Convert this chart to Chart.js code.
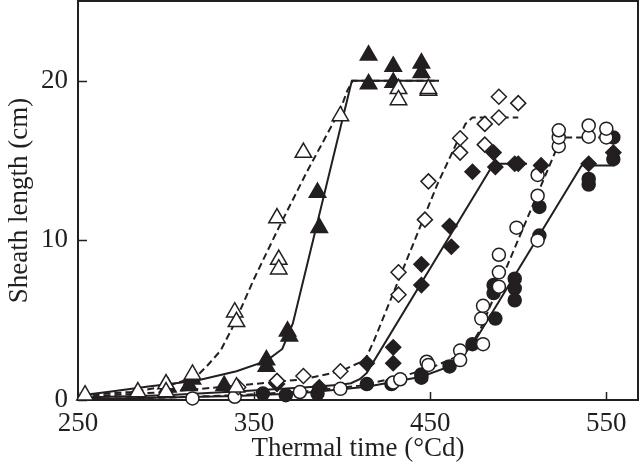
<!DOCTYPE html>
<html>
<head>
<meta charset="utf-8">
<script src="https://cdn.jsdelivr.net/npm/chart.js@4"></script>
<style>
  body { margin: 0; background: #fff; }
  canvas { display: block; }
</style>
</head>
<body>
<canvas id="chart" width="640" height="469"></canvas>
<script>
const ink = '#231f20';

const xTicks = [250, 350, 450, 550];
const yTicks = [0, 10, 20];

// measured points
const openTriX = [254, 284, 300, 300, 315, 340, 339, 340, 363, 364, 364, 378, 399, 432, 432, 449, 449];
const openTriY = [0.3, 0.5, 1.0, 0.5, 1.6, 0.8, 5.5, 4.9, 11.4, 8.8, 8.2, 15.5, 17.8, 19.5, 18.8, 19.4, 19.5];
const fillTriX = [301, 313, 315, 333, 357, 357, 369, 370, 386, 387, 415, 415, 429, 429, 445, 445];
const fillTriY = [0.8, 0.9, 1.3, 0.9, 2.5, 2.1, 4.3, 4.0, 13.0, 10.8, 21.6, 19.8, 20.9, 19.9, 21.1, 20.5];
const openDiaX = [341, 363, 378, 399, 432, 432, 447, 449, 467, 467, 481, 481, 489, 489, 500];
const openDiaY = [0.8, 1.2, 1.5, 1.8, 8.0, 6.6, 11.3, 13.7, 15.5, 16.4, 16.0, 17.3, 17.7, 19.0, 18.6];
const fillDiaX = [363, 387, 414, 429, 429, 445, 445, 461, 462, 474, 486, 487, 498, 500, 513, 540, 554];
const fillDiaY = [1.0, 0.8, 2.3, 3.3, 2.3, 8.5, 7.2, 10.9, 9.6, 14.3, 15.5, 14.6, 14.8, 14.8, 14.7, 14.8, 15.5];
const openCirX = [315, 339, 376, 399, 429, 433, 448, 449, 467, 467, 480, 479, 480, 489, 489, 489, 499, 511, 511, 511, 523, 523, 523, 540, 540, 550, 550];
const openCirY = [0.1, 0.2, 0.5, 0.7, 1.1, 1.3, 2.4, 2.2, 3.1, 2.5, 3.5, 5.1, 5.9, 7.1, 8.0, 9.1, 10.8, 10.0, 12.8, 14.1, 15.9, 16.45, 16.9, 16.5, 17.2, 16.45, 17.0];
const fillCirX = [355, 368, 386, 414, 428, 445, 445, 461, 474, 487, 486, 486, 498, 498, 498, 512, 512, 540, 540, 554, 554];
const fillCirY = [0.4, 0.3, 0.4, 1.0, 1.0, 1.6, 1.4, 2.1, 3.5, 5.1, 6.7, 7.2, 6.25, 7.0, 7.6, 10.3, 12.1, 13.5, 13.85, 15.1, 16.45];

// fitted curves
const fitOpenTriX = [252, 280, 300, 317, 323, 331, 338, 350, 364, 380, 399, 403, 406, 455];
const fitOpenTriY = [0.3, 0.5, 0.85, 1.45, 2.1, 3.1, 4.6, 7.6, 10.8, 14.3, 18.2, 19.4, 20.0, 20.0];
const fitFillTriX = [252, 270, 290, 317, 340, 357, 366, 372, 405.5, 455];
const fitFillTriY = [0.3, 0.55, 0.85, 1.2, 1.8, 2.45, 3.2, 4.8, 20.0, 20.0];
const fitOpenDiaX = [252, 300, 340, 378, 399, 413, 418, 432, 454, 465, 470, 474, 500];
const fitOpenDiaY = [0.2, 0.5, 0.9, 1.3, 1.8, 2.5, 3.7, 7.5, 13.5, 16.1, 17.3, 17.7, 17.7];
const fitFillDiaX = [252, 300, 342, 380, 399, 405, 410, 414, 486, 505];
const fitFillDiaY = [0.15, 0.3, 0.55, 0.8, 0.95, 1.05, 1.3, 1.7, 14.8, 14.8];
const fitOpenCirX = [252, 300, 340, 380, 410, 433, 450, 467, 474, 478.4, 522, 527, 554];
const fitOpenCirY = [0.05, 0.15, 0.3, 0.55, 0.9, 1.45, 2.0, 2.8, 3.6, 4.4, 15.8, 16.45, 16.45];
const fitFillCirX = [252, 300, 340, 376, 414, 445, 461, 468, 474, 476.5, 536, 555];
const fitFillCirY = [0.05, 0.15, 0.25, 0.42, 0.83, 1.46, 2.1, 2.7, 3.5, 3.9, 14.7, 14.7];

const pts = (xs, ys) => xs.map((x, i) => ({ x: x, y: ys[i] }));

function markers(xs, ys, style, filled, radius) {
  return {
    data: pts(xs, ys),
    pointStyle: style,
    pointRadius: radius,
    pointBackgroundColor: filled ? ink : '#fff',
    pointBorderColor: ink,
    pointBorderWidth: 1.5,
    showLine: false,
    clip: false,
    order: 1
  };
}

function fit(xs, ys, dashed) {
  return {
    data: pts(xs, ys),
    showLine: true,
    borderColor: ink,
    borderWidth: 2,
    borderDash: dashed ? [7, 4] : [],
    pointRadius: 0,
    tension: 0,
    fill: false,
    clip: false,
    order: 2
  };
}

// box round the plot plus inward tick marks
const framePlugin = {
  id: 'frame',
  beforeDatasetsDraw(chart) {
    const { ctx, chartArea: a, scales } = chart;
    ctx.save();
    ctx.strokeStyle = ink;
    ctx.lineWidth = 2;
    ctx.strokeRect(a.left, a.top, a.right - a.left, a.bottom - a.top);
    ctx.lineWidth = 1.5;
    ctx.beginPath();
    xTicks.forEach(v => {
      const px = Math.round(scales.x.getPixelForValue(v)) + 0.5;
      ctx.moveTo(px, a.bottom);
      ctx.lineTo(px, a.bottom - 8);
    });
    yTicks.forEach(v => {
      const py = Math.round(scales.y.getPixelForValue(v)) + 0.5;
      ctx.moveTo(a.left, py);
      ctx.lineTo(a.left + 9, py);
    });
    ctx.stroke();
    ctx.restore();
  }
};

const font = { family: '"Liberation Serif", "DejaVu Serif", serif', size: 27 };

new Chart(document.getElementById('chart'), {
  type: 'scatter',
  data: {
    datasets: [
      markers(openTriX, openTriY, 'triangle', false, 9.5),
      markers(fillTriX, fillTriY, 'triangle', true, 9.5),
      markers(openDiaX, openDiaY, 'rectRot', false, 7.5),
      markers(fillDiaX, fillDiaY, 'rectRot', true, 7.5),
      markers(openCirX, openCirY, 'circle', false, 6.5),
      markers(fillCirX, fillCirY, 'circle', true, 6.5),
      fit(fitOpenTriX, fitOpenTriY, true),
      fit(fitFillTriX, fitFillTriY, false),
      fit(fitOpenDiaX, fitOpenDiaY, true),
      fit(fitFillDiaX, fitFillDiaY, false),
      fit(fitOpenCirX, fitOpenCirY, true),
      fit(fitFillCirX, fitFillCirY, false)
    ]
  },
  options: {
    responsive: false,
    animation: false,
    layout: { autoPadding: false, padding: { top: 1, right: 2, left: 0, bottom: 0 } },
    plugins: {
      legend: { display: false },
      tooltip: { enabled: false }
    },
    scales: {
      x: {
        type: 'linear',
        min: 250,
        max: 568,
        grid: { display: false, drawTicks: false },
        border: { display: false },
        afterBuildTicks: s => { s.ticks = xTicks.map(v => ({ value: v })); },
        afterFit: s => { s.height = 69; s.paddingLeft = 0; s.paddingRight = 0; },
        ticks: { color: ink, font: font, padding: 8, maxRotation: 0 },
        title: { display: true, text: 'Thermal time (°Cd)', color: ink, font: font, padding: { top: 0, bottom: 4 } }
      },
      y: {
        type: 'linear',
        min: 0,
        max: 25,
        grid: { display: false, drawTicks: false },
        border: { display: false },
        afterBuildTicks: s => { s.ticks = yTicks.map(v => ({ value: v })); },
        afterFit: s => { s.width = 78; s.paddingTop = 0; s.paddingBottom = 0; },
        ticks: { color: ink, font: font, padding: 10 },
        title: { display: true, text: 'Sheath length (cm)', color: ink, font: font, padding: { top: 4, bottom: 0 } }
      }
    }
  },
  plugins: [framePlugin]
});
</script>
</body>
</html>
